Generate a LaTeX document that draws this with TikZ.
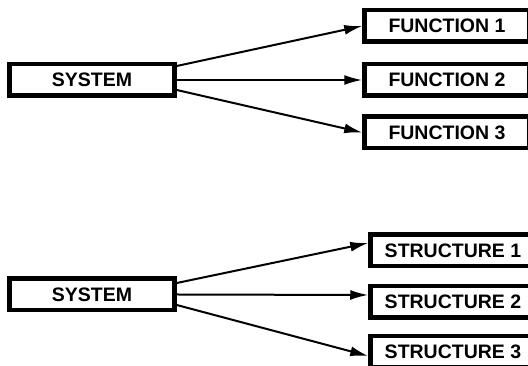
\documentclass[tikz,border=0pt]{standalone}
\usepackage{fontspec}
\setmainfont{Liberation Sans}
\usetikzlibrary{arrows.meta}

\tikzset{
  box/.style={draw, line width=4.5pt, minimum width=165pt, minimum height=31.5pt,
    inner sep=0pt, font=\bfseries\fontsize{19.5}{19.5}\selectfont},
  arr/.style={line width=2pt, -{Latex[length=18pt,width=10pt]}}
}

\begin{document}
\begin{tikzpicture}[x=1pt,y=1pt]
    \useasboundingbox (0,0) rectangle (528,366);
    \clip (0,0) rectangle (528,366);

        % Function decomposition
    \node[box] (sysA) at (92,286) {SYSTEM};
    \node[box] (fun1) at (447,340) {FUNCTION 1};
    \node[box] (fun2) at (447,286) {FUNCTION 2};
    \node[box] (fun3) at (447,233.5) {FUNCTION 3};

    \draw[arr] ([yshift=14pt]sysA.east) -- (fun1.west);
    \draw[arr] (sysA.east) -- (fun2.west);
    \draw[arr] ([yshift=-10pt]sysA.east) -- (fun3.west);

        % Structure decomposition
    \node[box] (sysB) at (92,71.5) {SYSTEM};
    \node[box] (str1) at (453,115.5) {STRUCTURE 1};
    \node[box] (str2) at (453,64) {STRUCTURE 2};
    \node[box] (str3) at (453,14) {STRUCTURE 3};

    \draw[arr] ([yshift=11.5pt]sysB.east) -- ([yshift=7.5pt]str1.west);
    \draw[arr] (sysB.east) -- ([yshift=7pt]str2.west);
    \draw[arr] ([yshift=-10.5pt]sysB.east) -- ([yshift=-4pt]str3.west);
\end{tikzpicture}
\end{document}
